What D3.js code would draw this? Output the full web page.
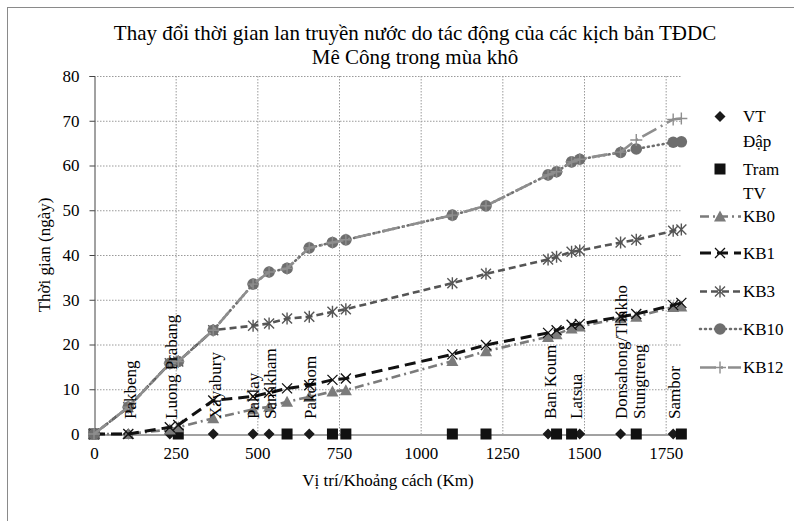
<!DOCTYPE html>
<html><head><meta charset="utf-8">
<script src="https://cdn.jsdelivr.net/npm/d3@7"></script>
<style>
html,body{margin:0;padding:0;background:#fff;}
svg{display:block;}
svg text{font-family:"Liberation Serif","Times New Roman",serif !important;}
</style></head>
<body>
<svg id="c" width="794" height="521"></svg>
<script>
// ---- data ----
const km = [0,105,232,258,365,487,536,591,659,730,771,1097,1200,1390,1416,1462,1487,1612,1660,1773,1798];
const damKm = [105,232,365,487,536,659,1390,1487,1612,1773];
const stationKm = [0,258,591,730,771,1097,1200,1416,1462,1660,1798];
const KB0  = [0,0,1.0,1.5,3.5,5.5,6.1,7.2,8.3,9.5,9.8,16.3,18.5,21.7,22.3,23.6,24.0,25.9,26.2,28.4,28.5];
const KB1  = [0,0,1.5,2.0,7.5,8.4,9.2,10.2,10.9,12.1,12.4,17.8,19.9,22.6,23.2,24.4,24.6,26.2,26.8,28.8,29.3];
const KB3  = [0,6.0,15.8,16.2,23.2,24.2,24.7,25.8,26.2,27.3,27.9,33.7,35.8,39.0,39.6,40.7,41.0,42.8,43.4,45.4,45.7];
const KB10 = [0,6.0,15.8,16.2,23.2,33.5,36.2,37.0,41.6,42.8,43.4,48.9,51.0,57.9,58.6,60.8,61.4,62.9,63.7,65.2,65.3];
const KB12 = [0,6.0,15.8,16.2,23.2,33.5,36.2,37.0,41.6,42.8,43.4,48.9,51.0,57.9,58.6,60.8,61.4,63.0,65.7,70.3,70.5];
const placeNames = ["Pakbeng","Luong Prabang","Xayabury","Paklay","Sanakham","Pakchom","Ban Koum","Latsua","Donsahong/Thakho","Stungtreng","Sambor"];
const placeKm = [113,238,373,487,539,663,1397,1477,1615,1671,1778];
const xTicks = [0,250,500,750,1000,1250,1500,1750];
const yTicks = [0,10,20,30,40,50,60,70,80];
const titleLines = ["Thay đổi thời gian lan truyền nước do tác động của các kịch bản TĐDC","Mê Công trong mùa khô"];
const xTitle = "Vị trí/Khoảng cách (Km)";
const yTitle = "Thời gian (ngày)";
const legendNames = ["VT Đập","Tram TV","KB0","KB1","KB3","KB10","KB12"];

// ---- setup ----
const FONT = "Liberation Serif";
const svg = d3.select("#c").attr("font-family",FONT);
const x = d3.scaleLinear().domain([0,1800]).range([94,682]);
const y = d3.scaleLinear().domain([0,80]).range([434,76]);

// chart frame
svg.append("rect").attr("x",7.5).attr("y",7.5).attr("width",800).attr("height",520)
  .attr("fill","none").attr("stroke","#8a8a8a").attr("stroke-width",1);

// gridlines
const grid = svg.append("g");
grid.selectAll(".gx").data(xTicks.filter(d=>d>0)).join("line")
  .attr("x1",d=>x(d)+0.5).attr("x2",d=>x(d)+0.5).attr("y1",y(80)).attr("y2",y(0))
  .attr("stroke","#9a9a9a").attr("stroke-dasharray","1.5,1.5");
grid.selectAll(".gy").data(yTicks.filter(d=>d>0)).join("line")
  .attr("x1",x(0)).attr("x2",x(1800)).attr("y1",d=>y(d)+0.5).attr("y2",d=>y(d)+0.5)
  .attr("stroke","#9a9a9a").attr("stroke-dasharray","1.5,1.5");

// axes
const yAxis = d3.axisLeft(y).tickValues(yTicks).tickSize(5).tickPadding(10);
const gy = svg.append("g").attr("transform",`translate(${x(0)+0.5},0)`).call(yAxis).attr("font-family",FONT).attr("font-size",17);
gy.select(".domain").attr("stroke","#444");
gy.selectAll(".tick line").attr("stroke","#444");
gy.selectAll("text").attr("fill","#000");

const xAxis = d3.axisBottom(x).tickValues(xTicks).tickSize(0).tickPadding(12).tickFormat(d3.format("d"));
const gx = svg.append("g").attr("transform",`translate(0,${y(0)+0.5})`).call(xAxis).attr("font-family",FONT).attr("font-size",17);
gx.select(".domain").attr("stroke","#444");
gx.selectAll("text").attr("fill","#000");

// titles
svg.append("text").attr("x",415).attr("y",40).attr("text-anchor","middle").attr("font-size",21).text(titleLines[0]);
svg.append("text").attr("x",415).attr("y",64).attr("text-anchor","middle").attr("font-size",21).text(titleLines[1]);
svg.append("text").attr("x",388).attr("y",486).attr("text-anchor","middle").attr("font-size",17).text(xTitle);
svg.append("text").attr("transform","translate(50,255) rotate(-90)").attr("text-anchor","middle").attr("font-size",17).text(yTitle);

// marker painters
function marker(g, type, color){
  if(type==="diamond") g.append("path").attr("d","M0,-5.5L5.5,0L0,5.5L-5.5,0Z").attr("fill","#1a1a1a");
  else if(type==="square") g.append("rect").attr("x",-5.5).attr("y",-5.5).attr("width",11).attr("height",11).attr("fill","#111");
  else if(type==="triangle") g.append("path").attr("d","M0,-6L6,5L-6,5Z").attr("fill",color);
  else if(type==="x") g.append("path").attr("d","M-5,-5L5,5M-5,5L5,-5").attr("stroke",color).attr("stroke-width",1.3).attr("fill","none");
  else if(type==="star") g.append("path").attr("d","M-5,-5L5,5M-5,5L5,-5M0,-6L0,6").attr("stroke",color).attr("stroke-width",1.4).attr("fill","none");
  else if(type==="circle") g.append("circle").attr("r",5.8).attr("fill",color);
  else if(type==="plus") g.append("path").attr("d","M-6,0L6,0M0,-6L0,6").attr("stroke",color).attr("stroke-width",1.4).attr("fill","none");
}

const series = [
  {name:"KB0", vals:KB0, color:"#7b7b7b", dash:"9,4,2,4", w:2.6, mk:"triangle"},
  {name:"KB1", vals:KB1, color:"#111111", dash:"11,6", w:3, mk:"x"},
  {name:"KB3", vals:KB3, color:"#555555", dash:"7,4", w:2.6, mk:"star"},
  {name:"KB10", vals:KB10, color:"#6e6e6e", dash:"1,4", w:2.6, mk:"circle", cap:"round"},
  {name:"KB12", vals:KB12, color:"#8e8e8e", dash:"16,5,2,5", w:2.6, mk:"plus"}
];

// dam and station markers
const plot = svg.append("g");
damKm.forEach(k=>{ marker(plot.append("g").attr("transform",`translate(${x(k)},${y(0)})`),"diamond"); });
stationKm.forEach(k=>{ marker(plot.append("g").attr("transform",`translate(${x(k)},${y(0)})`),"square"); });

const line = d3.line().x((d,i)=>x(km[i])).y(d=>y(d));
series.forEach(s=>{
  plot.append("path").attr("d",line(s.vals)).attr("fill","none").attr("stroke",s.color)
    .attr("stroke-width",s.w).attr("stroke-dasharray",s.dash).attr("stroke-linecap",s.cap||"butt");
  s.vals.forEach((v,i)=>{ marker(plot.append("g").attr("transform",`translate(${x(km[i])},${y(v)})`),s.mk,s.color); });
});

// place labels (rotated)
placeNames.forEach((n,i)=>{
  svg.append("text").attr("transform",`translate(${x(placeKm[i])+5.5},419) rotate(-90)`)
    .attr("font-size",17).attr("fill","#000").text(n);
});

// legend
const leg = svg.append("g");
const rows = [116.5,169,216.5,253,291.5,329,367.5];
const textRows = [[116.5,141.5],[169,193.5],[216.5],[253],[291.5],[329],[367.5]];
legendNames.forEach((n,i)=>{
  const g = leg.append("g");
  if(i===0) marker(g.append("g").attr("transform",`translate(720,${rows[i]})`),"diamond");
  else if(i===1) marker(g.append("g").attr("transform",`translate(720,${rows[i]})`),"square");
  else {
    const s = series[i-2];
    g.append("line").attr("x1",700).attr("x2",741).attr("y1",rows[i]).attr("y2",rows[i])
      .attr("stroke",s.color).attr("stroke-width",s.w).attr("stroke-dasharray",s.dash).attr("stroke-linecap",s.cap||"butt");
    marker(g.append("g").attr("transform",`translate(720,${rows[i]})`),s.mk,s.color);
  }
  const parts = (i<2) ? n.split(" ") : [n];
  parts.forEach((p,j)=>{
    g.append("text").attr("x",743).attr("y",textRows[i][j]).attr("dy","0.35em").attr("font-size",17).text(p);
  });
});
</script>
</body></html>
